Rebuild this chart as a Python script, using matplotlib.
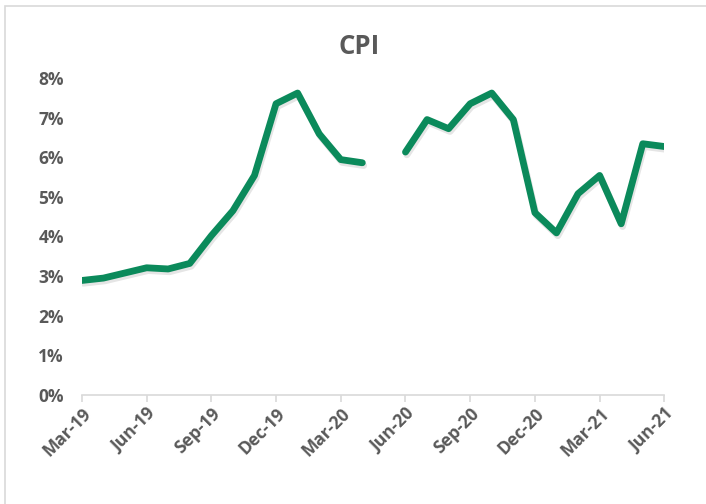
import numpy as np
import matplotlib.pyplot as plt
import matplotlib.patheffects as pe
from matplotlib.patches import Rectangle
from matplotlib.ticker import PercentFormatter

# Monthly CPI, Mar-19 .. Jun-21 (May-20 not published)
months = ["Mar-19", "Apr-19", "May-19", "Jun-19", "Jul-19", "Aug-19", "Sep-19",
          "Oct-19", "Nov-19", "Dec-19", "Jan-20", "Feb-20", "Mar-20", "Apr-20",
          "May-20", "Jun-20", "Jul-20", "Aug-20", "Sep-20", "Oct-20", "Nov-20",
          "Dec-20", "Jan-21", "Feb-21", "Mar-21", "Apr-21", "May-21", "Jun-21"]
cpi = [2.89, 2.95, 3.08, 3.21, 3.18, 3.32, 4.02,
       4.65, 5.54, 7.35, 7.62, 6.59, 5.94, 5.86,
       np.nan, 6.13, 6.95, 6.72, 7.35, 7.62, 6.95,
       4.60, 4.09, 5.08, 5.54, 4.32, 6.34, 6.27]

GREEN = "#0B8A5B"
GREY = "#595959"

plt.rcParams["font.family"] = ["Open Sans", "DejaVu Sans"]

fig = plt.figure(figsize=(7.06, 5.04), dpi=100)
ax = fig.add_axes([0.116, 0.2163, 0.825, 0.629])

x = np.arange(len(months))
y = np.array(cpi) / 100
ax.plot(x, y, color=GREEN, lw=4.9, solid_capstyle="round", solid_joinstyle="round",
        path_effects=[pe.SimpleLineShadow(offset=(1, -2), alpha=0.1, shadow_color="black"),
                      pe.Normal()])

ax.set_xlim(0, len(months) - 1)
ax.set_ylim(0, 0.08)
ax.set_yticks(np.arange(0, 0.081, 0.01))
ax.yaxis.set_major_formatter(PercentFormatter(1.0, decimals=0))

tick_pos = x[::3]
ax.set_xticks(tick_pos)
ax.set_xticklabels([months[i] for i in tick_pos], rotation=45, ha="right",
                   rotation_mode="anchor")

for s in ["top", "right", "left"]:
    ax.spines[s].set_visible(False)
ax.spines["bottom"].set_color("#D9D9D9")
ax.spines["bottom"].set_linewidth(1.2)

ax.tick_params(axis="y", length=0, pad=13, labelsize=12.5, labelcolor=GREY)
ax.tick_params(axis="x", length=5, width=1.2, color="#D9D9D9", pad=2,
               labelsize=12.5, labelcolor=GREY)
for lab in ax.get_xticklabels() + ax.get_yticklabels():
    lab.set_fontweight("bold")

fig.text(359 / 706, 1 - 46 / 504, "CPI", ha="center", va="center", fontsize=18.5,
         fontweight="bold", color=GREY)

# chart frame
fig.patches.append(Rectangle((5 / 706, -0.05), 1.1, 1 - 6 / 504 + 0.05,
                             transform=fig.transFigure, fill=False,
                             edgecolor="#D9D9D9", lw=1.2))

fig.savefig("out.png", dpi=100)
